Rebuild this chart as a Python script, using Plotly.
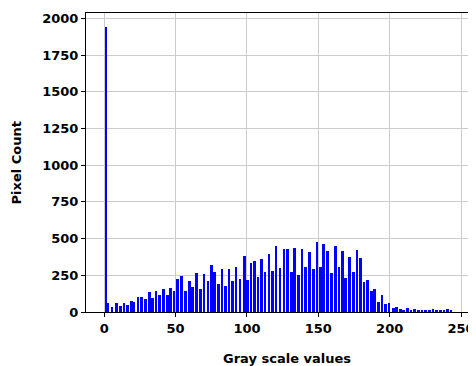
import plotly.graph_objects as go

# gray level (bar centre) and pixel counts
gray_levels = [1, 2.6, 5.4, 8.4, 11.2, 13.8, 16.1, 18.9, 20.8, 23.6, 26.2, 28.7,
               31.5, 33.9, 36.2, 38.5, 41.3, 44.1, 46.5, 48.8, 51.2, 54, 56.8,
               59.6, 61.9, 64.7, 67.5, 69.9, 72.7, 75, 77.4, 80.2, 82.5, 85,
               87.5, 90, 92.3, 95.1, 98.4, 100.5, 102.8, 105.2, 107.7, 110.2,
               112.6, 115.4, 117.9, 120.3, 123.1, 125.9, 128.3, 131.1, 133.4,
               135.9, 138.6, 141.1, 143.7, 146.5, 149.1, 151.4, 153.7, 156.3,
               159.1, 161.9, 164.5, 166.8, 169.1, 171.7, 174.5, 177.1, 179.6,
               182.1, 184.5, 187.1, 189.5, 192.3, 194.6, 197.2, 199.5, 202.5,
               204.9, 207.4, 209.8, 212.6, 215, 217.6, 220, 222.6, 225.2, 227.8,
               230.4, 233, 235.6, 238, 240.6, 243]
pixel_counts = [1940, 61, 34, 61, 41, 61, 48, 75, 70, 100, 100, 88,
                138, 95, 145, 118, 156, 113, 165, 145, 222, 243, 145,
                210, 172, 268, 158, 256, 210, 320, 270, 188, 293, 179,
                293, 211, 306, 224, 379, 215, 333, 347, 238, 361,
                274, 397, 281, 449, 299, 431, 431, 272, 435,
                254, 431, 308, 408, 295, 476, 308, 463, 417,
                263, 449, 308, 417, 231, 372, 272, 422, 367,
                204, 218, 145, 159, 68, 113, 54, 59, 27,
                36, 18, 9, 27, 14, 18, 14, 9, 9, 9,
                18, 14, 9, 9, 18, 9]
bar_widths = [0.8] + [1.85] * (len(gray_levels) - 1)

x_ticks = [0, 50, 100, 150, 200, 250]
y_ticks = [0, 250, 500, 750, 1000, 1250, 1500, 1750, 2000]

font_b = dict(family="DejaVu Sans", size=13, color="black", weight="bold")

fig = go.Figure(go.Bar(x=gray_levels, y=pixel_counts, width=bar_widths,
                       marker=dict(color="#0000ff", line=dict(width=0))))

fig.update_layout(
    width=468, height=358,
    margin=dict(l=78, r=0, t=5, b=54),
    plot_bgcolor="white", paper_bgcolor="white",
    showlegend=False,
    bargap=0,
    xaxis=dict(range=[-12.8, 260.5], tickvals=x_ticks, ticktext=[str(v) for v in x_ticks],
               showgrid=True, gridcolor="#cccccc", gridwidth=1, zeroline=False,
               showline=True, linecolor="black", linewidth=1, mirror=True,
               ticks="outside", ticklen=4, tickcolor="black", tickfont=font_b,
               automargin=False),
    yaxis=dict(range=[0, 2037], tickvals=y_ticks, ticktext=[str(v) for v in y_ticks],
               showgrid=True, gridcolor="#cccccc", gridwidth=1, zeroline=False,
               showline=True, linecolor="black", linewidth=1, mirror=False,
               ticks="outside", ticklen=4, tickcolor="black", tickfont=font_b,
               automargin=False),
    annotations=[
        dict(text="Gray scale values", xref="paper", yref="paper", x=0.515, y=-0.154,
             xanchor="center", yanchor="middle", showarrow=False, font=font_b),
        dict(text="Pixel Count", xref="paper", yref="paper", x=-0.177, y=0.5,
             xanchor="center", yanchor="middle", textangle=-90, showarrow=False, font=font_b),
    ],
)

fig.write_html("out.html")
